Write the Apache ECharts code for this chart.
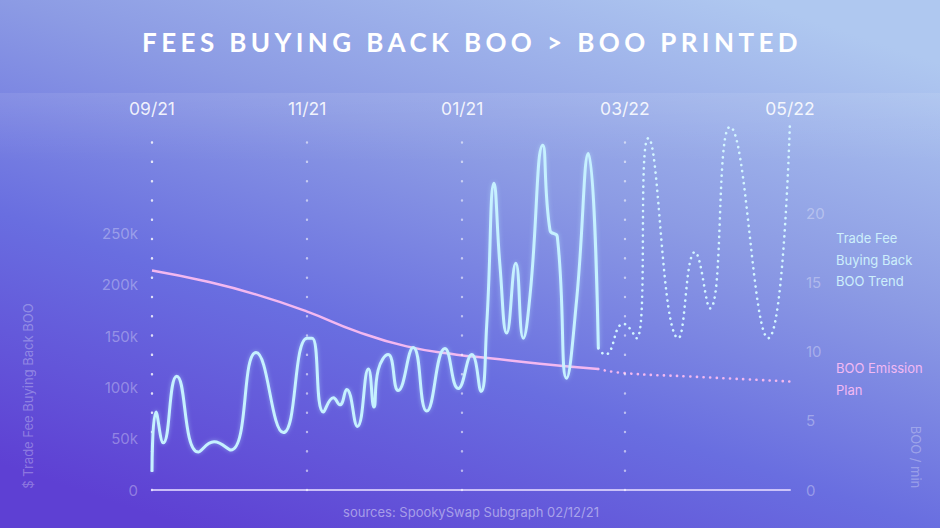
<!DOCTYPE html>
<html>
<head>
<meta charset="utf-8">
<script src="https://cdn.jsdelivr.net/npm/echarts@6.0.0/dist/echarts.min.js"></script>
<style>
  html, body { margin: 0; padding: 0; background: #7d86e0; }
  #chart { width: 940px; height: 528px; }
  svg text[style*="26px"] { letter-spacing: 4.4px; }
</style>
</head>
<body>
<div id="chart"></div>
<script>
// ---- data ----
const titleText = 'FEES BUYING BACK BOO > BOO PRINTED';
const sourceText = 'sources: SpookySwap Subgraph 02/12/21';
const leftAxisName = '$ Trade Fee Buying Back BOO';
const rightAxisName = 'BOO / min';
const legendFee = ['Trade Fee', 'Buying Back', 'BOO Trend'];
const legendEmission = ['BOO Emission', 'Plan'];

// x positions (days from start of chart) of the month ticks
const xTickDays = [0, 62, 124, 189, 255];
const xTickLabels = ['09/21', '11/21', '01/21', '03/22', '05/22'];

// Trade fee buying back BOO ($k) – actual
const feeDays = [0, 1.6, 4.5, 9.9, 18.5, 24.8, 31.5, 41.6, 52.5, 62, 64, 68.5, 72.5, 75.1, 77.8, 82.1, 86.5, 88.7, 90.4, 94.4, 98.4, 104.4, 109.8, 117.1, 122.4, 127.8, 131.5, 133.8, 136.7, 139.1, 141.8, 145.4, 148.4, 151.1, 156.2, 159.1, 162, 165.7, 169.7, 174.4, 178.4];
const feeValuesK = [17.8, 76, 46, 111, 37, 47, 39, 134, 56, 148, 148, 76, 90, 83, 98, 62, 118, 81, 117, 132, 97, 139, 77, 138, 99, 132, 96, 162, 299, 218, 153, 221, 148, 190, 336, 253, 247, 109, 185, 328, 138];

// Trade fee trend – projection (dotted)
const projDays = [178.4, 181.1, 188.4, 193.7, 198.4, 210.4, 217, 223, 231, 246.3, 255];
const projValuesK = [138, 132, 162, 148, 343, 148, 232, 177, 354, 148, 360];

// BOO emission plan (BOO / min)
const emDays = [0, 21.9, 41.8, 61.8, 81.8, 101.8, 121.8, 135.1, 155, 178.4];
const emValues = [15.9, 15.1, 14.15, 12.94, 11.49, 10.4, 9.8, 9.55, 9.15, 8.76];
const emProjDays = [178.4, 188.4, 215, 255];
const emProjValues = [8.76, 8.47, 8.22, 7.86];

const leftTickMaxShown = 250000;
const rightTickMaxShown = 20;

// ---- chart ----
const pair = (xs, ys, k) => xs.map((x, i) => [x, ys[i] * k]);
const FONT = 'Inter';
const dotStyle = { color: 'rgba(255,255,255,0.55)', width: 2.4, type: [0.1, 19.2], cap: 'round' };

const chart = echarts.init(document.getElementById('chart'), null, { renderer: 'svg', width: 940, height: 528 });

const option = {
  animation: false,
  backgroundColor: 'transparent',
  grid: { left: 152, right: 150, top: 131, bottom: 38 },
  graphic: [
    {
      type: 'rect', z: -10, silent: true,
      shape: { x: 0, y: 0, width: 940, height: 528 },
      style: {
        fill: new echarts.graphic.LinearGradient(0.8, 0, 0.2, 1, [
          { offset: 0, color: '#afc8f0' },
          { offset: 0.35, color: '#8c9be4' },
          { offset: 0.65, color: '#696ee0' },
          { offset: 1, color: '#5e40d3' }
        ])
      }
    },
    {
      type: 'rect', z: -9, silent: true,
      shape: { x: 0, y: 93, width: 940, height: 70 },
      style: {
        fill: new echarts.graphic.LinearGradient(0, 0, 0, 1, [
          { offset: 0, color: 'rgba(255,255,255,0.08)' },
          { offset: 1, color: 'rgba(255,255,255,0)' }
        ])
      }
    },
    {
      type: 'text', x: 472, y: 42, silent: true,
      style: { text: titleText, fill: '#ffffff', font: 'bold 26px Lato', textAlign: 'center', textVerticalAlign: 'middle' }
    },
    {
      type: 'text', x: 471, y: 512, silent: true,
      style: { text: sourceText, fill: 'rgba(255,255,255,0.45)', fontSize: 13, fontFamily: FONT, textAlign: 'center', textVerticalAlign: 'middle' }
    },
    {
      type: 'text', x: 28, y: 396, rotation: Math.PI / 2, silent: true,
      style: { text: leftAxisName, fill: 'rgba(255,255,255,0.3)', fontSize: 13, fontFamily: FONT, textAlign: 'center', textVerticalAlign: 'middle' }
    },
    {
      type: 'text', x: 916, y: 457, rotation: -Math.PI / 2, silent: true,
      style: { text: rightAxisName, fill: 'rgba(255,255,255,0.3)', fontSize: 13, fontFamily: FONT, textAlign: 'center', textVerticalAlign: 'middle' }
    },
    ...legendFee.map((t, i) => ({
      type: 'text', x: 836, y: 238 + i * 21.5, silent: true,
      style: { text: t, fill: '#cdeffb', fontSize: 13, fontFamily: FONT, textAlign: 'left', textVerticalAlign: 'middle' }
    })),
    ...legendEmission.map((t, i) => ({
      type: 'text', x: 836, y: 368 + i * 22, silent: true,
      style: { text: t, fill: '#f2b9f3', fontSize: 13, fontFamily: FONT, textAlign: 'left', textVerticalAlign: 'middle' }
    }))
  ],
  xAxis: [
    {
      type: 'value', min: 0, max: 255, position: 'top',
      axisLine: { show: false }, axisTick: { show: false }, splitLine: { show: false },
      axisLabel: {
        customValues: xTickDays,
        formatter: v => { const i = xTickDays.indexOf(v); return i >= 0 ? xTickLabels[i] : ''; },
        color: 'rgba(255,255,255,0.88)', fontSize: 17.5, fontFamily: FONT, margin: 14
      }
    },
    {
      type: 'value', min: 0, max: 255, position: 'bottom',
      axisLine: { show: true, lineStyle: { color: 'rgba(228,218,255,0.8)', width: 2 } },
      axisTick: { show: false }, axisLabel: { show: false }, splitLine: { show: false }
    }
  ],
  yAxis: [
    {
      type: 'value', min: 0, max: 350000, interval: 50000, position: 'left',
      axisLine: { show: true, lineStyle: dotStyle },
      axisTick: { show: false }, splitLine: { show: false },
      axisLabel: {
        formatter: v => v > leftTickMaxShown ? '' : (v === 0 ? '0' : (v / 1000) + 'k'),
        color: 'rgba(255,255,255,0.33)', fontSize: 15, fontFamily: FONT, margin: 14
      }
    },
    {
      type: 'value', min: 0, max: 26, interval: 5, position: 'right',
      axisLine: { show: true, lineStyle: dotStyle },
      axisTick: { show: false }, splitLine: { show: false },
      axisLabel: {
        formatter: v => v > rightTickMaxShown ? '' : String(v),
        color: 'rgba(255,255,255,0.33)', fontSize: 15, fontFamily: FONT, margin: 16
      }
    }
  ],
  series: [
    {
      type: 'line', name: 'grid', xAxisIndex: 0, yAxisIndex: 0, data: [], silent: true,
      markLine: {
        silent: true, symbol: ['none', 'none'], label: { show: false },
        lineStyle: dotStyle,
        data: xTickDays.slice(1, -1).map(d => ({ xAxis: d }))
      }
    },
    {
      type: 'line', name: 'Emission', xAxisIndex: 0, yAxisIndex: 1, smooth: 0.5, symbol: 'none',
      data: pair(emDays, emValues, 1),
      lineStyle: { color: '#f3b8f0', width: 2.5 }
    },
    {
      type: 'line', name: 'Emission plan', xAxisIndex: 0, yAxisIndex: 1, smooth: 0.5, symbol: 'none',
      data: pair(emProjDays, emProjValues, 1),
      lineStyle: { color: '#f3b8f0', width: 2.6, type: [0.1, 6.5], cap: 'round' }
    },
    {
      type: 'line', name: 'Fee', xAxisIndex: 0, yAxisIndex: 0, smooth: 0.5, symbol: 'none', clip: false,
      data: pair(feeDays, feeValuesK, 1000),
      lineStyle: { color: '#c6f1ff', width: 3, shadowColor: 'rgba(190,240,255,0.45)', shadowBlur: 4 }
    },
    {
      type: 'line', name: 'Fee trend', xAxisIndex: 0, yAxisIndex: 0, smooth: 0.5, symbol: 'none', clip: false,
      data: pair(projDays, projValuesK, 1000),
      lineStyle: { color: '#d2f5ff', width: 2.6, type: [0.1, 6], cap: 'round' }
    }
  ]
};
chart.setOption(option);
function spaceTitle() {
  document.querySelectorAll('svg text').forEach(t => {
    if (t.textContent === titleText) t.style.letterSpacing = '4.4px';
  });
}
spaceTitle();
chart.on('finished', spaceTitle);
</script>
</body>
</html>
